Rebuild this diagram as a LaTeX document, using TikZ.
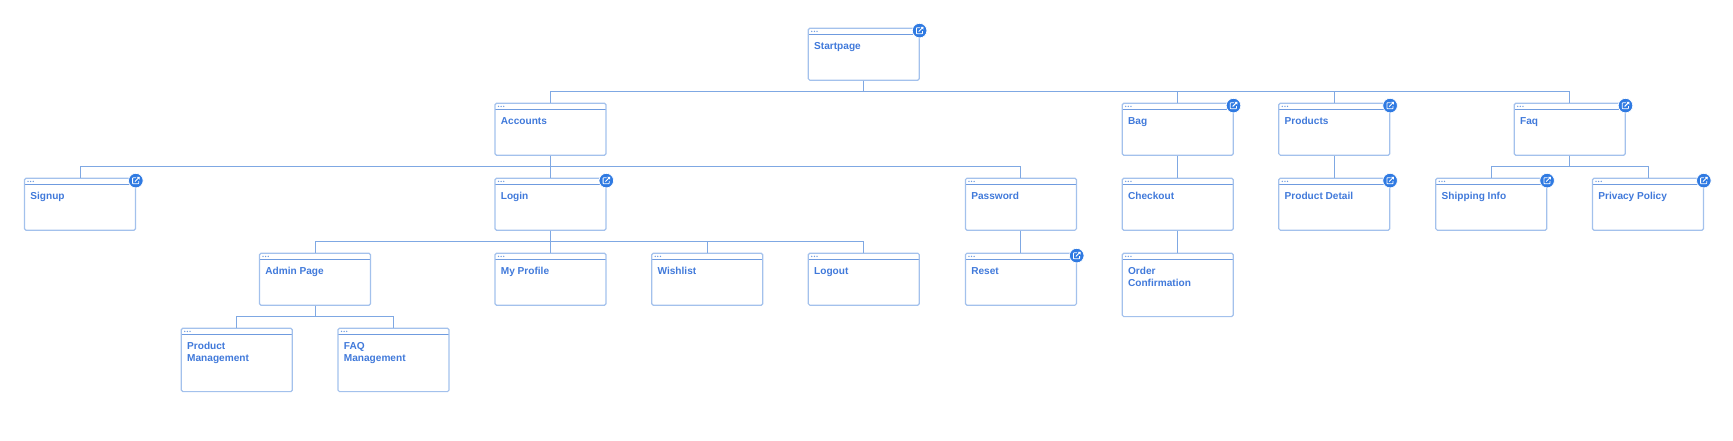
\documentclass[tikz,border=0pt]{standalone}
\usepackage{fontspec}
\setmainfont{Liberation Sans}
\definecolor{pageline}{HTML}{A3C1EC}
\definecolor{barline}{HTML}{6F9BDF}
\definecolor{linkline}{HTML}{7FA8E3}
\definecolor{pagetext}{HTML}{4079DA}
\definecolor{badgefill}{HTML}{2F7AE2}
\tikzset{
  pagebox/.style={draw=pageline, line width=1.2pt, rounded corners=1.5pt, inner sep=0pt,
    minimum width=111pt, minimum height=#1,
    path picture={
      \draw[barline, line width=.7pt] ([yshift=-6.2pt]path picture bounding box.north west) -- ([yshift=-6.2pt]path picture bounding box.north east);
      \foreach \dotx in {3.5,6.1,8.7}
        \fill[barline] ([xshift=\dotx pt, yshift=-3.2pt]path picture bounding box.north west) circle (.75pt);
    }},
  pagebox/.default=52pt,
  pagelabel/.style={anchor=north west, inner sep=0pt, xshift=6.3pt, yshift=-14.3pt, align=left,
    text=pagetext, font=\fontsize{10.1}{12}\selectfont\bfseries},
  linkbadge/.style={circle, fill=badgefill, draw=white, line width=.7pt, minimum size=14.6pt, inner sep=0pt, xshift=-.3pt, yshift=-3pt,
    path picture={
      \coordinate (bc) at (path picture bounding box.center);
      \draw[white, line width=.8pt, rounded corners=.6pt] ([shift={(.4pt,2.9pt)}]bc) -- ([shift={(-3.2pt,2.9pt)}]bc) -- ([shift={(-3.2pt,-3.2pt)}]bc) -- ([shift={(2.9pt,-3.2pt)}]bc) -- ([shift={(2.9pt,-.4pt)}]bc);
      \draw[white, line width=.9pt] ([shift={(-.9pt,-.9pt)}]bc) -- ([shift={(3.4pt,3.4pt)}]bc);
      \fill[white] ([shift={(.9pt,3.8pt)}]bc) -- ([shift={(3.8pt,3.8pt)}]bc) -- ([shift={(3.8pt,.9pt)}]bc) -- cycle;
    }},
  treelink/.style={draw=linkline, line width=.9pt}
}
\begin{document}
\begin{tikzpicture}[x=1pt, y=-1pt]
\useasboundingbox (0,0) rectangle (1733,440);
% rows of the tree
\coordinate (rowa) at (0,91.3);
\coordinate (rowb) at (0,166.3);
\coordinate (rowc) at (0,241.3);
\coordinate (rowd) at (0,316.3);
% pages
\node[pagebox] (startpage) at (863.8,54.2) {};
\node[pagelabel] (startpagetext) at (startpage.north west) {Startpage};
\node[pagebox] (accounts) at (550.5,129.2) {};
\node[pagelabel] (accountstext) at (accounts.north west) {Accounts};
\node[pagebox] (bag) at (1177.7,129.2) {};
\node[pagelabel] (bagtext) at (bag.north west) {Bag};
\node[pagebox] (products) at (1334.3,129.2) {};
\node[pagelabel] (productstext) at (products.north west) {Products};
\node[pagebox] (faq) at (1569.7,129.2) {};
\node[pagelabel] (faqtext) at (faq.north west) {Faq};
\node[pagebox] (signup) at (80,204.2) {};
\node[pagelabel] (signuptext) at (signup.north west) {Signup};
\node[pagebox] (login) at (550.5,204.2) {};
\node[pagelabel] (logintext) at (login.north west) {Login};
\node[pagebox] (password) at (1020.9,204.2) {};
\node[pagelabel] (passwordtext) at (password.north west) {Password};
\node[pagebox] (checkout) at (1177.7,204.2) {};
\node[pagelabel] (checkouttext) at (checkout.north west) {Checkout};
\node[pagebox] (productdetail) at (1334.3,204.2) {};
\node[pagelabel] (productdetailtext) at (productdetail.north west) {Product Detail};
\node[pagebox] (shipping) at (1491.3,204.2) {};
\node[pagelabel] (shippingtext) at (shipping.north west) {Shipping Info};
\node[pagebox] (privacy) at (1648,204.2) {};
\node[pagelabel] (privacytext) at (privacy.north west) {Privacy Policy};
\node[pagebox] (adminpage) at (315,279.2) {};
\node[pagelabel] (adminpagetext) at (adminpage.north west) {Admin Page};
\node[pagebox] (myprofile) at (550.5,279.2) {};
\node[pagelabel] (myprofiletext) at (myprofile.north west) {My Profile};
\node[pagebox] (wishlist) at (707.2,279.2) {};
\node[pagelabel] (wishlisttext) at (wishlist.north west) {Wishlist};
\node[pagebox] (logout) at (863.8,279.2) {};
\node[pagelabel] (logouttext) at (logout.north west) {Logout};
\node[pagebox] (reset) at (1020.9,279.2) {};
\node[pagelabel] (resettext) at (reset.north west) {Reset};
\node[pagebox=63.4pt] (orderconfirm) at (1177.7,284.9) {};
\node[pagelabel] (orderconfirmtext) at (orderconfirm.north west) {Order\\Confirmation};
\node[pagebox=63.4pt] (productmgmt) at (236.8,359.9) {};
\node[pagelabel] (productmgmttext) at (productmgmt.north west) {Product\\Management};
\node[pagebox=63.4pt] (faqmgmt) at (393.5,359.9) {};
\node[pagelabel] (faqmgmttext) at (faqmgmt.north west) {FAQ\\Management};
% link badges
\node[linkbadge] (startpagego) at (startpage.north east) {};
\node[linkbadge] (baggo) at (bag.north east) {};
\node[linkbadge] (productsgo) at (products.north east) {};
\node[linkbadge] (faqgo) at (faq.north east) {};
\node[linkbadge] (signupgo) at (signup.north east) {};
\node[linkbadge] (logingo) at (login.north east) {};
\node[linkbadge] (resetgo) at (reset.north east) {};
\node[linkbadge] (productdetailgo) at (productdetail.north east) {};
\node[linkbadge] (shippinggo) at (shipping.north east) {};
\node[linkbadge] (privacygo) at (privacy.north east) {};
% tree
\draw[treelink] (startpage.south) |- (rowa -| accounts) -- (accounts.north);
\draw[treelink] (startpage.south) |- (rowa -| bag) -- (bag.north);
\draw[treelink] (startpage.south) |- (rowa -| products) -- (products.north);
\draw[treelink] (startpage.south) |- (rowa -| faq) -- (faq.north);
\draw[treelink] (accounts.south) |- (rowb -| signup) -- (signup.north);
\draw[treelink] (accounts.south) -- (login.north);
\draw[treelink] (accounts.south) |- (rowb -| password) -- (password.north);
\draw[treelink] (login.south) |- (rowc -| adminpage) -- (adminpage.north);
\draw[treelink] (login.south) -- (myprofile.north);
\draw[treelink] (login.south) |- (rowc -| wishlist) -- (wishlist.north);
\draw[treelink] (login.south) |- (rowc -| logout) -- (logout.north);
\draw[treelink] (password.south) -- (reset.north);
\draw[treelink] (adminpage.south) |- (rowd -| productmgmt) -- (productmgmt.north);
\draw[treelink] (adminpage.south) |- (rowd -| faqmgmt) -- (faqmgmt.north);
\draw[treelink] (bag.south) -- (checkout.north);
\draw[treelink] (checkout.south) -- (orderconfirm.north);
\draw[treelink] (products.south) -- (productdetail.north);
\draw[treelink] (faq.south) |- (rowb -| shipping) -- (shipping.north);
\draw[treelink] (faq.south) |- (rowb -| privacy) -- (privacy.north);
\end{tikzpicture}
\end{document}
